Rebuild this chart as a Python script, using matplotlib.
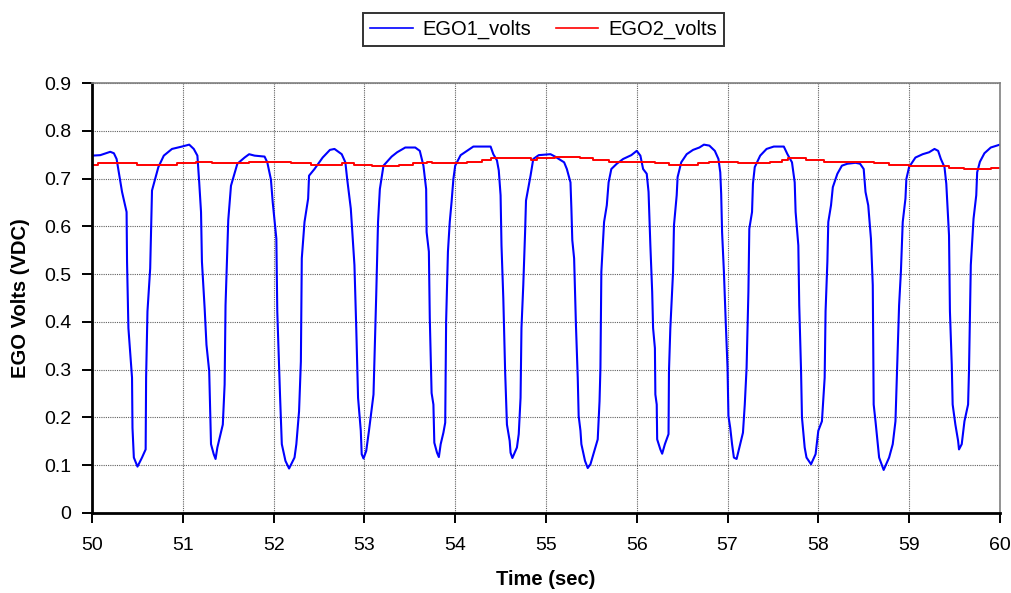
import matplotlib
matplotlib.use('Agg')
import matplotlib.pyplot as plt

plt.rcParams['font.family'] = ['Liberation Sans', 'DejaVu Sans']

# EGO1 sensor trace (time in sec, volts)
ego1_t = [
    50.0, 50.09, 50.2, 50.24, 50.27, 50.33, 50.38, 50.385, 50.4, 50.44, 50.445, 50.46, 50.5, 50.55,
    50.59, 50.595, 50.61, 50.64, 50.66, 50.73, 50.79, 50.88, 50.99, 51.07, 51.12, 51.16, 51.18,
    51.2, 51.21, 51.24, 51.26, 51.29, 51.31, 51.34, 51.36, 51.38, 51.44, 51.46, 51.47, 51.5, 51.53,
    51.6, 51.68, 51.73, 51.79, 51.9, 51.93, 51.97, 51.99, 52.03, 52.04, 52.07, 52.09, 52.13, 52.17,
    52.23, 52.25, 52.28, 52.3, 52.31, 52.34, 52.38, 52.39, 52.45, 52.54, 52.62, 52.67, 52.75, 52.79,
    52.81, 52.85, 52.89, 52.91, 52.93, 52.96, 52.97, 52.99, 53.02, 53.05, 53.1, 53.11, 53.13, 53.15,
    53.17, 53.21, 53.3, 53.36, 53.45, 53.56, 53.61, 53.65, 53.68, 53.685, 53.71, 53.72, 53.74, 53.76,
    53.77, 53.8, 53.82, 53.84, 53.87, 53.89, 53.9, 53.92, 53.94, 53.96, 53.98, 54.0, 54.06, 54.13,
    54.2, 54.39, 54.42, 54.46, 54.48, 54.5, 54.51, 54.53, 54.55, 54.57, 54.6, 54.61, 54.63, 54.68,
    54.7, 54.72, 54.73, 54.75, 54.77, 54.78, 54.81, 54.83, 54.86, 54.92, 55.05, 55.1, 55.2, 55.23,
    55.27, 55.28, 55.29, 55.31, 55.33, 55.35, 55.36, 55.38, 55.39, 55.43, 55.46, 55.49, 55.57, 55.59,
    55.6, 55.61, 55.64, 55.67, 55.69, 55.72, 55.78, 55.85, 55.94, 56.0, 56.04, 56.07, 56.11, 56.13,
    56.15, 56.17, 56.18, 56.2, 56.205, 56.22, 56.225, 56.26, 56.28, 56.31, 56.35, 56.355, 56.37,
    56.4, 56.41, 56.44, 56.45, 56.49, 56.55, 56.62, 56.69, 56.74, 56.8, 56.86, 56.9, 56.92, 56.93,
    56.94, 56.96, 56.98, 57.0, 57.01, 57.03, 57.05, 57.07, 57.1, 57.14, 57.17, 57.19, 57.21, 57.23,
    57.24, 57.27, 57.28, 57.3, 57.36, 57.43, 57.51, 57.62, 57.66, 57.71, 57.74, 57.75, 57.78, 57.79,
    57.81, 57.82, 57.85, 57.87, 57.92, 57.97, 58.0, 58.04, 58.07, 58.08, 58.1, 58.11, 58.14, 58.16,
    58.21, 58.26, 58.32, 58.41, 58.46, 58.5, 58.52, 58.55, 58.58, 58.6, 58.61, 58.63, 58.67, 58.72,
    58.78, 58.82, 58.85, 58.87, 58.89, 58.91, 58.93, 58.96, 58.97, 59.0, 59.07, 59.15, 59.22, 59.28,
    59.32, 59.35, 59.39, 59.41, 59.44, 59.45, 59.47, 59.48, 59.51, 59.54, 59.55, 59.58, 59.61, 59.65,
    59.66, 59.68, 59.71, 59.74, 59.75, 59.78, 59.83, 59.9, 60.0,
]
ego1_v = [
    0.748, 0.749, 0.756, 0.753, 0.741, 0.672, 0.63, 0.526, 0.387, 0.283, 0.178, 0.116, 0.097, 0.116,
    0.133, 0.283, 0.422, 0.512, 0.675, 0.724, 0.748, 0.762, 0.767, 0.771, 0.762, 0.748, 0.692,
    0.63, 0.526, 0.428, 0.352, 0.297, 0.144, 0.123, 0.113, 0.137, 0.185, 0.269, 0.435, 0.613, 0.685,
    0.731, 0.744, 0.751, 0.748, 0.746, 0.734, 0.698, 0.65, 0.574, 0.422, 0.248, 0.144, 0.109, 0.093,
    0.116, 0.144, 0.213, 0.317, 0.533, 0.609, 0.658, 0.706, 0.72, 0.744, 0.76, 0.762, 0.751, 0.734,
    0.699, 0.637, 0.519, 0.387, 0.241, 0.172, 0.123, 0.114, 0.13, 0.172, 0.248, 0.317, 0.456, 0.609,
    0.678, 0.727, 0.746, 0.755, 0.765, 0.765, 0.758, 0.727, 0.678, 0.588, 0.547, 0.408, 0.251, 0.227,
    0.147, 0.126, 0.117, 0.144, 0.168, 0.189, 0.401, 0.547, 0.609, 0.651, 0.699, 0.727, 0.749, 0.758,
    0.767, 0.767, 0.751, 0.738, 0.717, 0.665, 0.56, 0.449, 0.297, 0.185, 0.151, 0.126, 0.115, 0.137,
    0.165, 0.241, 0.387, 0.477, 0.588, 0.654, 0.685, 0.706, 0.741, 0.749, 0.751, 0.746, 0.734, 0.72,
    0.692, 0.637, 0.571, 0.533, 0.394, 0.283, 0.203, 0.172, 0.144, 0.109, 0.094, 0.102, 0.154, 0.234,
    0.304, 0.505, 0.609, 0.644, 0.692, 0.72, 0.731, 0.741, 0.749, 0.758, 0.748, 0.72, 0.71, 0.672,
    0.56, 0.463, 0.387, 0.345, 0.248, 0.227, 0.154, 0.133, 0.124, 0.144, 0.165, 0.297, 0.387,
    0.505, 0.602, 0.665, 0.703, 0.734, 0.751, 0.76, 0.765, 0.771, 0.769, 0.758, 0.741, 0.713, 0.668,
    0.588, 0.505, 0.401, 0.304, 0.203, 0.178, 0.144, 0.116, 0.113, 0.144, 0.168, 0.227, 0.304, 0.463,
    0.595, 0.63, 0.689, 0.724, 0.748, 0.762, 0.767, 0.767, 0.751, 0.734, 0.692, 0.63, 0.56, 0.435,
    0.297, 0.2, 0.137, 0.116, 0.102, 0.123, 0.172, 0.192, 0.283, 0.422, 0.526, 0.609, 0.644, 0.682,
    0.71, 0.727, 0.731, 0.733, 0.731, 0.72, 0.672, 0.644, 0.574, 0.477, 0.227, 0.192, 0.116, 0.09,
    0.116, 0.144, 0.192, 0.317, 0.435, 0.505, 0.609, 0.658, 0.699, 0.724, 0.744, 0.751, 0.755, 0.762,
    0.758, 0.741, 0.724, 0.689, 0.581, 0.422, 0.311, 0.227, 0.185, 0.151, 0.133, 0.144, 0.192, 0.227,
    0.297, 0.519, 0.616, 0.665, 0.713, 0.735, 0.753, 0.765, 0.771,
]

# EGO2 sensor trace (held values, changes at these times)
ego2_t = [
    50.0, 50.07, 50.49, 50.94, 51.14, 51.32, 51.73, 52.19, 52.41, 52.75, 52.89, 53.08, 53.19, 53.38,
    53.54, 53.69, 53.74, 54.13, 54.29, 54.39, 54.84, 54.9, 55.1, 55.38, 55.52, 55.69, 56.2, 56.35,
    56.68, 56.8, 57.12, 57.47, 57.6, 57.67, 57.86, 58.06, 58.61, 58.78, 59.0, 59.44, 59.61, 59.9, 60.0,
]
ego2_v = [
    0.729, 0.732, 0.729, 0.732, 0.735, 0.733, 0.735, 0.733, 0.728, 0.732, 0.729, 0.726, 0.727, 0.729,
    0.732, 0.735, 0.732, 0.735, 0.739, 0.742, 0.739, 0.742, 0.746, 0.742, 0.739, 0.735, 0.732, 0.729,
    0.732, 0.735, 0.732, 0.735, 0.739, 0.742, 0.739, 0.735, 0.732, 0.728, 0.726, 0.722, 0.719, 0.722,
    0.722,
]

x_ticks = list(range(50, 61))
y_ticks = [0, 0.1, 0.2, 0.3, 0.4, 0.5, 0.6, 0.7, 0.8, 0.9]

fig = plt.figure(figsize=(10.12, 5.93), dpi=100)
ax = fig.add_axes([0.091, 0.135, 0.897, 0.725])

ax.plot(ego1_t, ego1_v, color='#0000ff', lw=1.5, label='EGO1_volts')
ax.plot(ego2_t, ego2_v, color='#ff0000', lw=1.4, drawstyle='steps-post', label='EGO2_volts')

ax.set_xlim(50, 60)
ax.set_ylim(0, 0.9)
ax.set_xticks(x_ticks)
ax.set_yticks(y_ticks)
ax.set_yticklabels(['0' if v == 0 else f'{v:.1f}' for v in y_ticks])
ax.tick_params(labelsize=14, length=7, width=1.4, direction='out')
ax.tick_params(axis='x', pad=10)
ax.tick_params(axis='y', pad=8)

ax.grid(True, color='#606060', linestyle=(0, (1, 1)), linewidth=0.8)
ax.set_axisbelow(True)

for s in ['left', 'bottom']:
    ax.spines[s].set_linewidth(2.0)
    ax.spines[s].set_color('black')
for s in ['top', 'right']:
    ax.spines[s].set_linewidth(1.2)
    ax.spines[s].set_color('#808080')

ax.set_xlabel('Time (sec)', fontsize=14.5, fontweight='bold', labelpad=12)
ax.set_ylabel('EGO Volts (VDC)', fontsize=14.5, fontweight='bold', labelpad=10)

leg = fig.legend(loc='upper center', bbox_to_anchor=(0.537, 0.995), ncol=2, fontsize=14.5,
                 frameon=True, fancybox=False, edgecolor='black', handlelength=2.1,
                 columnspacing=1.2, handletextpad=0.5, borderpad=0.35)
leg.get_frame().set_linewidth(1.4)
for line in leg.get_lines():
    line.set_linewidth(1.2)

fig.savefig('out.png', dpi=100)
print('Saved out.png')
